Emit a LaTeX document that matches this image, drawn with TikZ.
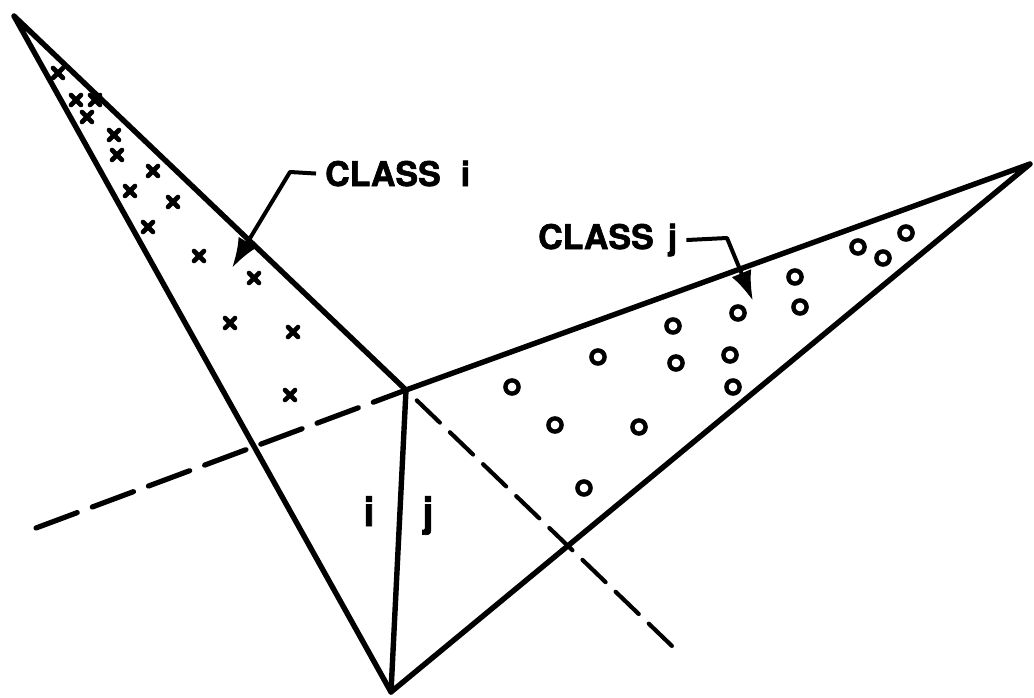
\documentclass[tikz,border=0pt]{standalone}
\usepackage{fontspec}
\setsansfont{TeX Gyre Heros}[BoldFeatures={FakeBold=1.8}]
\usetikzlibrary{arrows.meta}
\tikzset{
  edge/.style={line width=5.4pt, line cap=round, line join=round},
  dashA/.style={line width=5.2pt, line cap=round, dash pattern=on 44pt off 16pt},
  dashB/.style={line width=4.2pt, line cap=round, dash pattern=on 32pt off 14pt},
  lead/.style={line width=4pt, line join=round},
  tip/.style={-{Latex[length=30pt,width=21pt]}},
  lbl/.style={font=\sffamily\bfseries\fontsize{34pt}{34pt}\selectfont, inner ysep=0pt, inner xsep=9pt},
  xm/.style={line width=4.6pt, line cap=round},
  om/.style={line width=4.4pt},
}
\begin{document}
\begin{tikzpicture}[x=1pt,y=-1pt]
\useasboundingbox (0,0) rectangle (1034,698);
% vertices
\coordinate (A) at (14,16);
\coordinate (C) at (406,390);
\coordinate (B) at (391,692);
\coordinate (R) at (1030,164);
\coordinate (L1) at (36,528);
\coordinate (L2) at (673,647);
% solid edges
\draw[edge] (A) -- (C) -- (R) -- (B) -- (A);
\draw[edge] (C) -- (B);
% dashed boundaries
\draw[dashA] (L1) -- (C);
\draw[dashB, shorten <=15pt] (C) -- (L2);
% labels
\node[lbl, anchor=base west] (ci) at (316,186) {CLASS\hspace{20pt}i};
\node[lbl, anchor=base west] (cj) at (529,249) {CLASS\hspace{14pt}j};
\node[lbl, anchor=base, font=\sffamily\bfseries\fontsize{40pt}{40pt}\selectfont] (li) at (369,526) {i};
\node[lbl, anchor=base, font=\sffamily\bfseries\fontsize{40pt}{40pt}\selectfont] (lj) at (428,526) {j};
% leaders
\coordinate (ki) at (290,172);
\coordinate (ti) at (232,268);
\coordinate (kj) at (727,238);
\coordinate (tj) at (753,301);
\draw[lead, tip] (ci.west) -- (ki) -- (ti);
\draw[lead, tip] (cj.east) -- (kj) -- (tj);
% class i samples
\foreach \x/\y in {58/73, 76/100, 95/100, 87/117, 114/135, 117/155, 153/171, 130/191,
                   173/202, 148/227, 199/256, 254/278, 230/323, 293/332, 290/395}
  \draw[xm] (\x-5,\y-5) -- (\x+5,\y+5) (\x-5,\y+5) -- (\x+5,\y-5);
% class j samples
\foreach \x/\y in {738/313, 673/326, 598/357, 676/363, 730/355, 733/387, 512/387,
                   795/277, 800/307, 858/247, 883/258, 906/233, 555/425, 639/427, 584/488}
  \draw[om] (\x,\y) circle (6.6);
\end{tikzpicture}
\end{document}
